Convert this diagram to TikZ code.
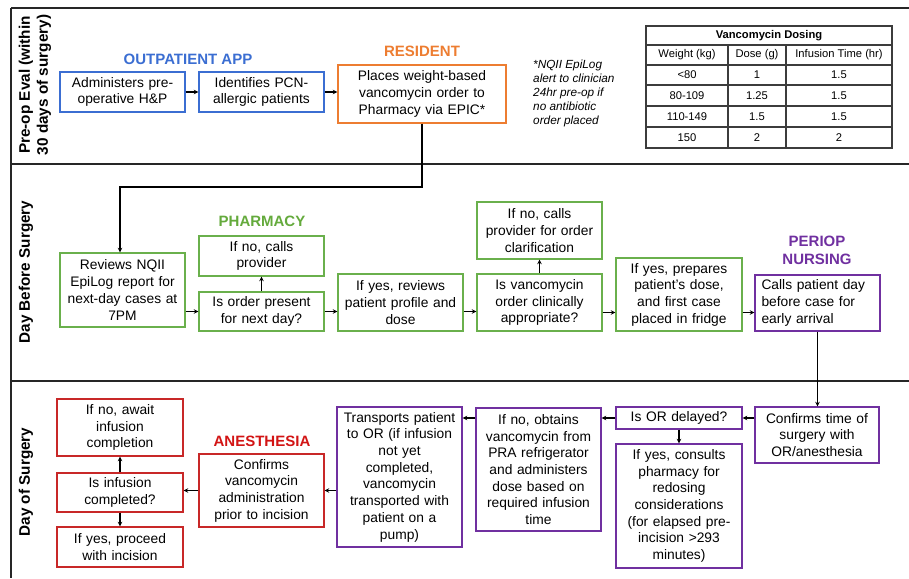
\documentclass[tikz,border=0pt]{standalone}
\usepackage{fontspec}
\setmainfont{Liberation Sans}
\usetikzlibrary{arrows.meta}
\definecolor{cblue}{RGB}{59,110,210}
\definecolor{corange}{RGB}{237,125,49}
\definecolor{cgreen}{RGB}{106,176,76}
\definecolor{cgreenlbl}{RGB}{100,170,60}
\definecolor{cpurple}{RGB}{112,48,160}
\definecolor{cred}{RGB}{200,40,40}
\definecolor{credlbl}{RGB}{210,20,20}
\definecolor{ctbl}{RGB}{60,60,60}
\tikzset{
  box/.style={draw=#1, line width=1.4pt, fill=white, inner sep=2pt, align=center,
    minimum width=125pt, text width=120pt, font=\fontsize{13.8}{16.7}\selectfont},
  arr/.style={-{Stealth[length=4.5pt,width=4.5pt]}, line width=1.1pt, black},
  lanelbl/.style={font=\bfseries\fontsize{15.3}{18}\selectfont, rotate=90, align=center},
  rolelbl/.style={font=\bfseries\fontsize{15}{18}\selectfont, text=#1, align=center},
  frameline/.style={line width=2.4pt, black!85},
  tbl/.style={line width=1.1pt, ctbl},
  tbltxt/.style={font=\fontsize{11.2}{13}\selectfont},
}
\begin{document}
\begin{tikzpicture}[x=1pt,y=-1pt]
\useasboundingbox (0,0) rectangle (909,578);
% frame
\draw[frameline] (11,8) -- (909,8);
\draw[line width=1.6pt, black!85] (11,8) -- (11,578);
\draw[frameline] (11,164) -- (909,164);
\draw[frameline] (11,381) -- (909,381);
% lane labels
\node[lanelbl] (L1) at (35,85) {Pre-op Eval (within\\30 days of surgery)};
\node[lanelbl] (L2) at (26,272) {Day Before Surgery};
\node[lanelbl] (L3) at (26,482) {Day of Surgery};
% role labels
\node[rolelbl=cblue] (R1) at (188,59) {OUTPATIENT APP};
\node[rolelbl=corange] (R2) at (422,51) {RESIDENT};
\node[rolelbl=cgreenlbl] (R3) at (262,221) {PHARMACY};
\node[rolelbl=cpurple] (R4) at (817,250) {PERIOP\\NURSING};
\node[rolelbl=credlbl] (R5) at (262,441) {ANESTHESIA};
% top lane
\node[box=cblue, minimum height=40pt] (a1) at (122.5,92) {Administers pre-\\operative H\&P};
\node[box=cblue, minimum height=40pt] (a2) at (261.5,92) {Identifies PCN-\\allergic patients};
\node[box=corange, minimum width=168pt, text width=162pt, minimum height=58pt] (a3) at (422,94) {Places weight-based\\vancomycin order to\\Pharmacy via EPIC*};
\node[anchor=north west, align=left, inner sep=0pt, font=\itshape\fontsize{11.8}{14}\selectfont] (note) at (533,60) {*NQII EpiLog\\alert to clinician\\24hr pre-op if\\no antibiotic\\order placed};
% table
\draw[tbl] (646,26) rectangle (892,148);
\foreach \yy in {45,65,85,106,127} \draw[tbl] (646,\yy) -- (892,\yy);
\draw[tbl] (728,45) -- (728,148);
\draw[tbl] (786,45) -- (786,148);
\node[tbltxt, font=\bfseries\fontsize{11.2}{13}\selectfont] (t0) at (769,35.5) {Vancomycin Dosing};
\node[tbltxt] (t11) at (687,55) {Weight (kg)};
\node[tbltxt] (t12) at (757,55) {Dose (g)};
\node[tbltxt] (t13) at (839,55) {Infusion Time (hr)};
\node[tbltxt] (t21) at (687,75) {<80};
\node[tbltxt] (t22) at (757,75) {1};
\node[tbltxt] (t23) at (839,75) {1.5};
\node[tbltxt] (t31) at (687,95.5) {80-109};
\node[tbltxt] (t32) at (757,95.5) {1.25};
\node[tbltxt] (t33) at (839,95.5) {1.5};
\node[tbltxt] (t41) at (687,116.5) {110-149};
\node[tbltxt] (t42) at (757,116.5) {1.5};
\node[tbltxt] (t43) at (839,116.5) {1.5};
\node[tbltxt] (t51) at (687,137.5) {150};
\node[tbltxt] (t52) at (757,137.5) {2};
\node[tbltxt] (t53) at (839,137.5) {2};
% middle lane
\node[box=cgreen, minimum height=74pt] (b1) at (122.5,290) {Reviews NQII\\EpiLog report for\\next-day cases at\\7PM};
\node[box=cgreen, minimum height=40pt] (b2) at (261.5,256) {If no, calls\\provider};
\node[box=cgreen, minimum height=39pt] (b3) at (261.5,311.5) {Is order present\\for next day?};
\node[box=cgreen, minimum height=57pt] (b4) at (400.5,302.5) {If yes, reviews\\patient profile and\\dose};
\node[box=cgreen, minimum height=57pt] (b5) at (539.5,230.5) {If no, calls\\provider for order\\clarification};
\node[box=cgreen, minimum height=57pt] (b6) at (539.5,302.5) {Is vancomycin\\order clinically\\appropriate?};
\node[box=cgreen, minimum width=126pt, minimum height=73pt] (b7) at (679,294.5) {If yes, prepares\\patient's dose,\\and first case\\placed in fridge};
\node[box=cpurple, minimum height=56pt, align=left, text width=112pt] (b8) at (817.5,303) {Calls patient day\\before case for\\early arrival};
% bottom lane
\node[box=cpurple, minimum width=124pt, minimum height=56pt] (c1) at (817,435) {Confirms time of\\surgery with\\OR/anesthesia};
\node[box=cpurple, minimum width=126pt, minimum height=22pt] (c2) at (679,418) {Is OR delayed?};
\node[box=cpurple, minimum width=126pt, minimum height=124pt] (c3) at (679,506) {If yes, consults\\pharmacy for\\redosing\\considerations\\(for elapsed pre-\\incision >293\\minutes)};
\node[box=cpurple, minimum height=123pt] (c4) at (538.5,469.5) {If no, obtains\\vancomycin from\\PRA refrigerator\\and administers\\dose based on\\required infusion\\time};
\node[box=cpurple, minimum height=140pt] (c5) at (399.5,477) {Transports patient\\to OR (if infusion\\not yet\\completed,\\vancomycin\\transported with\\patient on a\\pump)};
\node[box=cred, minimum height=73pt] (c6) at (261.5,490.5) {Confirms\\vancomycin\\administration\\prior to incision};
\node[box=cred, minimum width=126pt, minimum height=57pt] (c7) at (120,427.5) {If no, await\\infusion\\completion};
\node[box=cred, minimum width=126pt, minimum height=39pt] (c8) at (120,492.5) {Is infusion\\completed?};
\node[box=cred, minimum width=126pt, minimum height=40pt] (c9) at (120,547) {If yes, proceed\\with incision};
% connectors
\coordinate (k1) at (422,187);
\coordinate (k2) at (120,187);
\draw[arr] (a1) -- (a2);
\draw[arr] (a2.east) -- (a2.east -| a3.west);
\draw[arr] (a3.south) -- (k1) -- (k2) -- (k2 |- b1.north);
\draw[arr] (b3.west -| b1.east) -- (b3.west);
\draw[arr] (b3) -- (b2);
\draw[arr] (b3.east) -- (b3.east -| b4.west);
\draw[arr] (b3.east -| b4.east) -- (b3.east -| b6.west);
\draw[arr] (b6) -- (b5);
\draw[arr] ([yshift=-1pt]b3.east -| b6.east) -- ([yshift=-1pt]b3.east -| b7.west);
\draw[arr] ([yshift=-1pt]b3.east -| b7.east) -- ([yshift=-1pt]b3.east -| b8.west);
\draw[arr] (b8.south) -- (b8.south |- c1.north);
\draw[arr] (c2.east -| c1.west) -- (c2.east);
\draw[arr] (c2.west) -- (c2.west -| c4.east);
\draw[arr] (c2) -- (c3);
\draw[arr] (c2.west -| c4.west) -- (c2.west -| c5.east);
\draw[arr] (c6.east -| c5.west) -- (c6.east);
\draw[arr] (c6.west) -- (c6.west -| c8.east);
\draw[arr] (c8) -- (c7);
\draw[arr] (c8) -- (c9);
\end{tikzpicture}
\end{document}
